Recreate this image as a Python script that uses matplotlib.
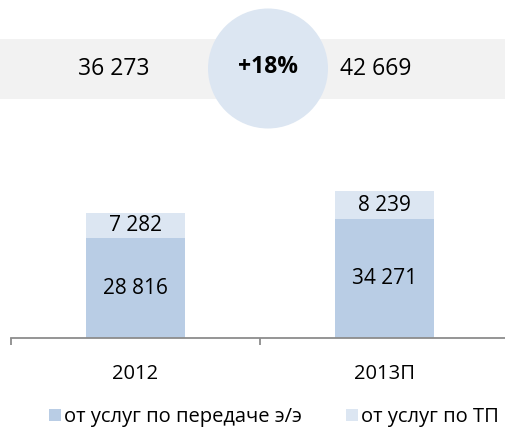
import matplotlib
matplotlib.use('Agg')
import matplotlib.pyplot as plt
import matplotlib.patches as mpatches
import numpy as np

plt.rcParams['font.family'] = ['Open Sans', 'DejaVu Sans']

# data
years = ['2012', '2013П']
transfer = [28816, 34271]      # от услуг по передаче э/э
connection = [7282, 8239]      # от услуг по ТП
totals = [36273, 42669]
growth = round((totals[1] / totals[0] - 1) * 100)

dark = '#b9cde5'
light = '#dce6f2'

W, H = 506, 430
fig = plt.figure(figsize=(W / 100, H / 100), dpi=100)

# background layer in pixel coords (grey band + circle)
bg = fig.add_axes([0, 0, 1, 1], zorder=0)
bg.set_xlim(0, W)
bg.set_ylim(H, 0)
bg.axis('off')
bg.add_patch(mpatches.Rectangle((0, 39), W, 60, color='#f2f2f2', lw=0))
bg.add_patch(mpatches.Circle((268, 68.5), 60, color=light, lw=0))
fmt = lambda v: f'{v:,}'.replace(',', ' ')
bg.text(114, 69, fmt(totals[0]), ha='center', va='center', fontsize=16.5)
bg.text(268, 67, f'+{growth}%', ha='center', va='center', fontsize=16.5, fontweight='bold')
bg.text(376, 69, fmt(totals[1]), ha='center', va='center', fontsize=16.5)

# bar chart
x = np.arange(len(years))
ax = fig.add_axes([11 / W, (H - 338) / H, 498 / W, 208 / H], zorder=1)
ax.patch.set_alpha(0)
b1 = ax.bar(x, transfer, width=0.4, color=dark, label='от услуг по передаче э/э')
b2 = ax.bar(x, connection, width=0.4, bottom=transfer, color=light, label='от услуг по ТП')
for i in range(len(years)):
    ax.text(x[i], transfer[i] / 2, fmt(transfer[i]), ha='center', va='center', fontsize=15)
    ax.text(x[i], transfer[i] + connection[i] / 2, fmt(connection[i]), ha='center', va='center', fontsize=15)

ax.set_xlim(-0.5, 1.5)
ax.set_ylim(0, 208 * 289.2)
ax.set_yticks([])
for s in ['top', 'right', 'left']:
    ax.spines[s].set_visible(False)
ax.spines['bottom'].set_color('#8c8c8c')
ax.spines['bottom'].set_linewidth(1.3)
ax.set_xticks(x)
ax.set_xticklabels(years, fontsize=14.5)
ax.tick_params(axis='x', which='major', length=0, pad=19)
ax.set_xticks([-0.5, 0.5, 1.5], minor=True)
ax.tick_params(axis='x', which='minor', length=5, color='#8c8c8c', width=1.3)

fig.legend(handles=[b1, b2], loc='center', bbox_to_anchor=(274 / W, 13 / H), ncol=2,
           frameon=False, fontsize=14.5, handlelength=0.6, handleheight=0.6,
           handletextpad=0.15, columnspacing=2.2, borderpad=0)

plt.savefig('out.png', dpi=100)
